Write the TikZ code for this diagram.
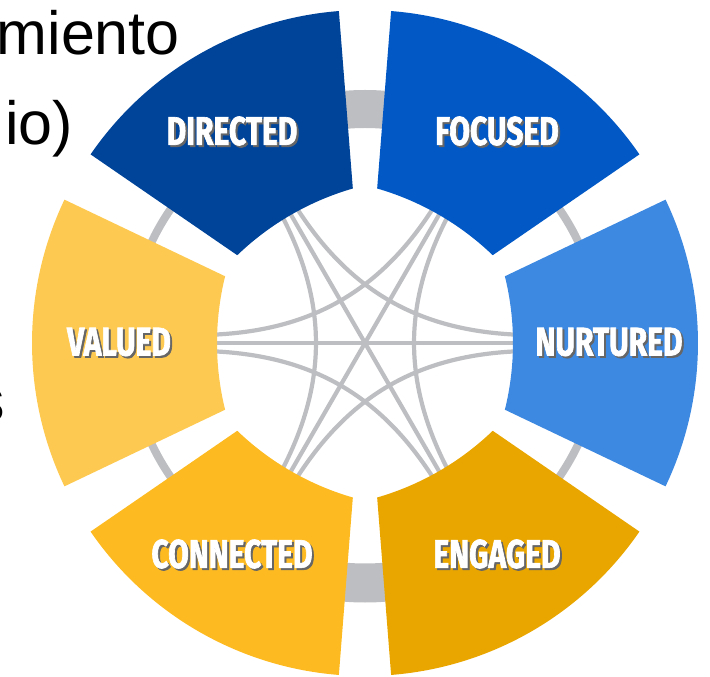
\documentclass[tikz,border=0pt]{standalone}
\usepackage{fontspec}
\setmainfont{Liberation Sans}
\newfontfamily\lblfont[FakeStretch=0.75, FakeBold=1.6]{Fira Sans}
\usepackage{tikz}
\definecolor{dirblue}{HTML}{00449A}
\definecolor{focblue}{HTML}{0259C6}
\definecolor{nurblue}{HTML}{3D88E0}
\definecolor{valyel}{HTML}{FEC950}
\definecolor{conyel}{HTML}{FDBB21}
\definecolor{engyel}{HTML}{E9A600}
\definecolor{ringgray}{HTML}{BDBEC2}
\tikzset{
  lbl/.style={text=white, font=\lblfont\bfseries\fontsize{40}{44}\selectfont, inner sep=0pt},
  link/.style={draw=ringgray, line width=4.2pt},
  side/.style={font=\fontsize{61}{70}\selectfont, anchor=base east, inner sep=0pt}
}
\newcommand{\dropshadow}[1]{\rlap{\kern2pt\raisebox{-2pt}{\color{black!60}#1}}#1}

\begin{document}
\begin{tikzpicture}[x=1pt, y=1pt]
    \useasboundingbox (-365,-334) rectangle (345,343);

    % text cut off at the left edge
    \node[side] (t1) at (-185, 288) {miento};
    \node[side] (t2) at (-292, 198) {io)};
    \node[side] (t3) at (-360, -79) {s};

    % gray ring behind the segments
    \draw[ringgray, line width=8pt] (0,0) circle[radius=236];
    \draw[ringgray, line width=38pt] (80:234) arc[start angle=80, end angle=100, radius=234];
    \draw[ringgray, line width=39pt] (260:240) arc[start angle=260, end angle=280, radius=240];

    % end points of the links
    \coordinate (N0) at (0:156);   \coordinate (N1) at (-3:156);  \coordinate (N2) at (3:156);
    \coordinate (F0) at (60:156);  \coordinate (F1) at (57:156);  \coordinate (F2) at (63:156);
    \coordinate (D0) at (120:156); \coordinate (D1) at (117:156); \coordinate (D2) at (123:156);
    \coordinate (V0) at (180:156); \coordinate (V1) at (177:156); \coordinate (V2) at (183:156);
    \coordinate (C0) at (240:156); \coordinate (C1) at (237:156); \coordinate (C2) at (243:156);
    \coordinate (E0) at (300:156); \coordinate (E1) at (297:156); \coordinate (E2) at (303:156);

    \draw[link] (N0) -- (V0);
    \draw[link] (F0) -- (C0);
    \draw[link] (D0) -- (E0);
    \draw[link] (N2) to[bend left=28] (D1);
    \draw[link] (D2) to[bend left=28] (C1);
    \draw[link] (C2) to[bend left=28] (N1);
    \draw[link] (F2) to[bend left=28] (V1);
    \draw[link] (V2) to[bend left=28] (E1);
    \draw[link] (E2) to[bend left=28] (F1);

    % segments (inner edge flatter than the ring)
    \fill[nurblue] (-25.5:155) -- (-25.5:333) arc[start angle=-25.5, end angle=25.5, radius=333] -- (25.5:155) arc[start angle=13.85, end angle=-13.85, radius=278.7] -- cycle;
    \fill[focblue] (34.5:155) -- (34.5:333) arc[start angle=34.5, end angle=85.5, radius=333] -- (85.5:155) arc[start angle=73.85, end angle=46.15, radius=278.7] -- cycle;
    \fill[dirblue] (94.5:155) -- (94.5:333) arc[start angle=94.5, end angle=145.5, radius=333] -- (145.5:155) arc[start angle=133.85, end angle=106.15, radius=278.7] -- cycle;
    \fill[valyel] (154.5:155) -- (154.5:333) arc[start angle=154.5, end angle=205.5, radius=333] -- (205.5:155) arc[start angle=193.85, end angle=166.15, radius=278.7] -- cycle;
    \fill[conyel] (214.5:155) -- (214.5:333) arc[start angle=214.5, end angle=265.5, radius=333] -- (265.5:155) arc[start angle=253.85, end angle=226.15, radius=278.7] -- cycle;
    \fill[engyel] (274.5:155) -- (274.5:333) arc[start angle=274.5, end angle=325.5, radius=333] -- (325.5:155) arc[start angle=313.85, end angle=286.15, radius=278.7] -- cycle;

    \node[lbl] (D) at (-133, 211) {\dropshadow{DIRECTED}};
    \node[lbl] (F) at (132, 211)  {\dropshadow{FOCUSED}};
    \node[lbl] (N) at (244, 0)    {\dropshadow{NURTURED}};
    \node[lbl] (E) at (132, -212) {\dropshadow{ENGAGED}};
    \node[lbl] (C) at (-133, -212) {\dropshadow{CONNECTED}};
    \node[lbl] (V) at (-246, 0)   {\dropshadow{VALUED}};
\end{tikzpicture}
\end{document}
